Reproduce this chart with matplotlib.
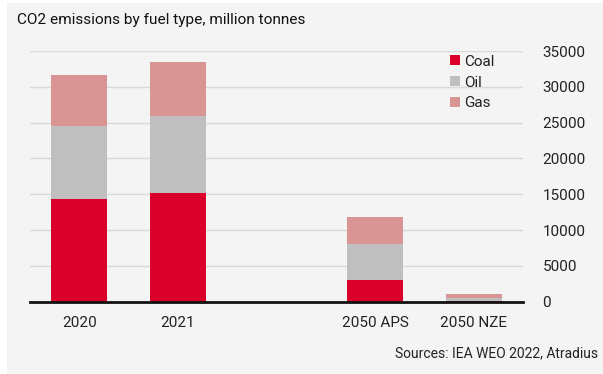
import matplotlib.pyplot as plt
from matplotlib.patches import Rectangle

# CO2 emissions by fuel type (million tonnes)
scenarios = ['2020', '2021', '2050 APS', '2050 NZE']
coal = [14300, 15140, 3030, 30]
oil = [10240, 10800, 5030, 540]
gas = [7120, 7500, 3730, 570]

# slot of each bar on the category axis (slot 2 is left empty)
slots = [0, 1, 3, 4]

red = '#db0029'
grey = '#bfbfbf'
pink = '#d99594'
bg = '#f4f4f4'

plt.rcParams['font.family'] = ['Roboto', 'DejaVu Sans']

fig = plt.figure(figsize=(6.03, 3.74), dpi=100)
fig.patches.append(Rectangle((7 / 603, 0), 1, 1 - 3 / 374, transform=fig.transFigure,
                             facecolor=bg, edgecolor='none', zorder=-5))

ax = fig.add_axes([30 / 603, 72.3 / 374, 493 / 603, 250.7 / 374])
ax.set_zorder(2)
ax.patch.set_alpha(0)

width = 0.57
bottom_oil = coal
bottom_gas = [c + o for c, o in zip(coal, oil)]
ax.bar(slots, coal, width, color=red, label='Coal', zorder=2)
ax.bar(slots, oil, width, bottom=bottom_oil, color=grey, label='Oil', zorder=2)
ax.bar(slots, gas, width, bottom=bottom_gas, color=pink, label='Gas', zorder=2)

ax.set_xlim(-0.5, 4.5)
ax.set_ylim(0, 35000)
ax.set_yticks(range(0, 35001, 5000))
ax.yaxis.tick_right()
ax.tick_params(axis='y', length=0, pad=14, labelsize=11, labelcolor='#222222')
ax.set_xticks(slots)
ax.set_xticklabels(scenarios)
ax.tick_params(axis='x', length=0, pad=10, labelsize=11, labelcolor='#222222')
ax.grid(axis='y', color='#d9d9d9', linewidth=1, zorder=1)
ax.set_axisbelow(True)

for side in ['top', 'right', 'left']:
    ax.spines[side].set_visible(False)
ax.spines['bottom'].set_linewidth(2)
ax.spines['bottom'].set_color('#111111')
ax.spines['bottom'].set_zorder(3)

leg = ax.legend(loc='upper right', bbox_to_anchor=(0.964, 1.028), frameon=False,
                fontsize=11, handlelength=0.65, handleheight=0.65,
                handletextpad=0.3, labelspacing=0.45, borderaxespad=0.3)
for t in leg.get_texts():
    t.set_color('#222222')

fig.text(17 / 603, 1 - 20 / 374, 'CO2 emissions by fuel type, million tonnes',
         fontsize=11.1, color='#111111', va='center', ha='left')
fig.text(598 / 603, 1 - 353 / 374, 'Sources: IEA WEO 2022, Atradius',
         fontsize=10, color='#222222', va='center', ha='right')

fig.savefig('out.png', dpi=100)
